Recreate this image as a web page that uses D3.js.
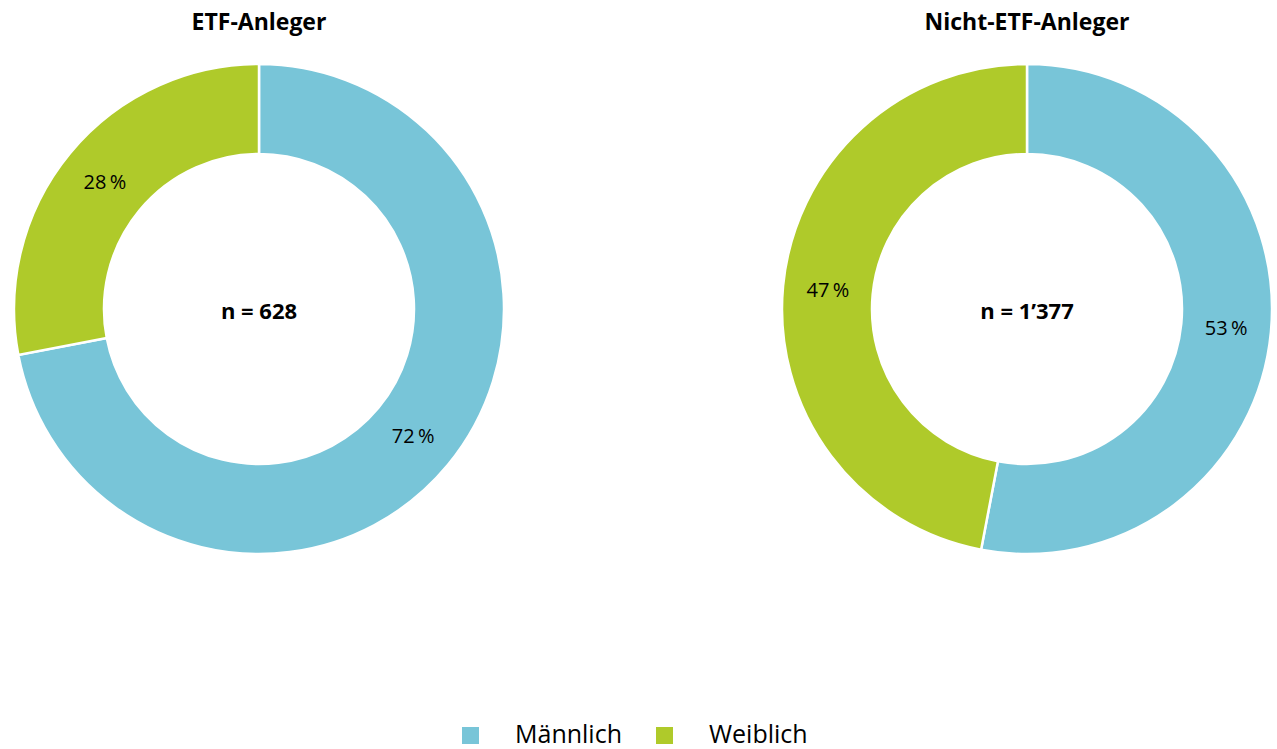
<!DOCTYPE html>
<html><head><meta charset="utf-8">
<script src="https://cdn.jsdelivr.net/npm/d3@7"></script>
<style>body{margin:0;background:#fff}svg{display:block}text{font-family:"Open Sans","Noto Sans",sans-serif;fill:#000}</style>
</head><body>
<svg id="c" width="1277" height="749"></svg>
<script>
const categories = ["Männlich", "Weiblich"];
const groups = ["ETF-Anleger", "Nicht-ETF-Anleger"];
const sampleSizes = ["n = 628", "n = 1’377"];
const etfValues = [72, 28];
const nonEtfValues = [53, 47];
const colors = ["#78c5d8", "#afca2a"];

const svg = d3.select("#c");
const color = d3.scaleOrdinal().domain(categories).range(colors);
const cx = d3.scalePoint().domain(groups).range([259, 1027]);
const outerR = 245, innerR = 155, cy = 309;
const pie = d3.pie().sort(null).value(d => d.v);
const arc = d3.arc().innerRadius(innerR).outerRadius(outerR);
const labelArc = d3.arc().innerRadius(200).outerRadius(200);

[etfValues, nonEtfValues].forEach((vals, gi) => {
  const data = categories.map((c, i) => ({c, v: vals[i]}));
  const g = svg.append("g").attr("transform", `translate(${cx(groups[gi])},${cy})`);
  const arcs = pie(data);
  g.selectAll("path").data(arcs).join("path")
    .attr("d", arc).attr("fill", d => color(d.data.c))
    .attr("stroke", "#fff").attr("stroke-width", 2.5);
  g.selectAll("text.lbl").data(arcs).join("text").attr("class", "lbl")
    .attr("transform", d => `translate(${labelArc.centroid(d)})`)
    .attr("text-anchor", "middle").attr("dy", "0.35em")
    .style("font-size", "20px")
    .text(d => d.data.v + "\u2009%");
  g.append("text").attr("text-anchor", "middle").attr("y", 10)
    .style("font-size", "22px").style("font-weight", "700")
    .text(sampleSizes[gi]);
  svg.append("text").attr("x", cx(groups[gi])).attr("y", 30)
    .attr("text-anchor", "middle")
    .style("font-size", "23px").style("font-weight", "700")
    .text(groups[gi]);
});

// legend
const legX = d3.scalePoint().domain(categories).range([462, 656]);
const lg = svg.selectAll("g.leg").data(categories).join("g").attr("class", "leg")
  .attr("transform", d => `translate(${legX(d)},727)`);
lg.append("rect").attr("width", 17).attr("height", 17).attr("fill", d => color(d));
lg.append("text").attr("x", 53).attr("y", 16).style("font-size", "25px").text(d => d);
</script>
</body></html>
